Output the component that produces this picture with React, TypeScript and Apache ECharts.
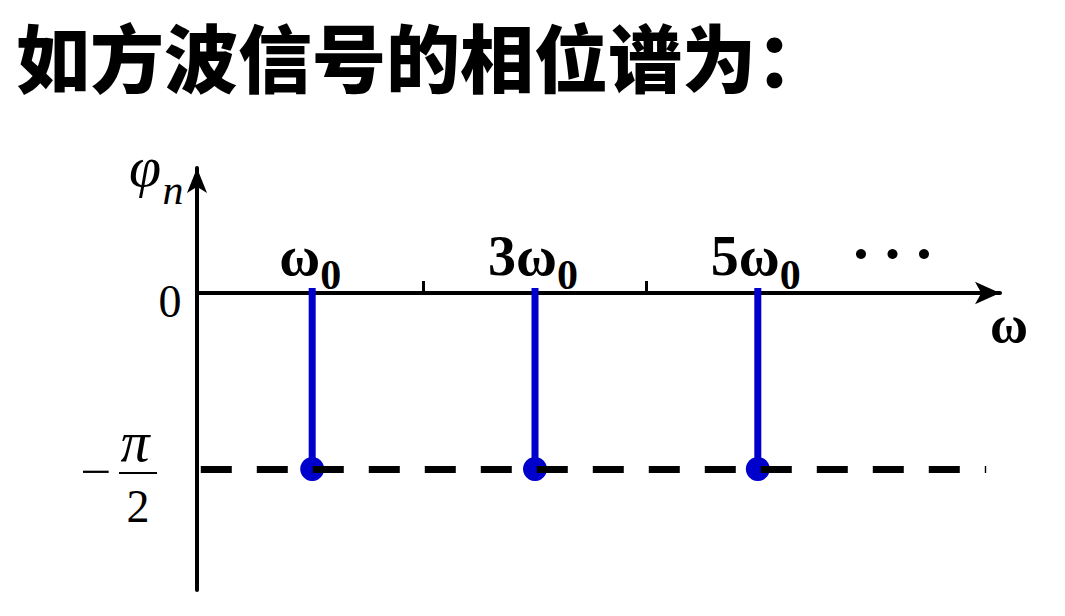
import React, { useEffect, useRef } from 'react';
import * as echarts from 'echarts';

const titleText = '如方波信号的相位谱为：';
const harmonics = [1, 3, 5];
const phases = [-1.5708, -1.5708, -1.5708];
const stemLabels = ['ω', '3ω', '5ω'];
const stemSub = '0';
const xTicks = [2, 4];
const halfPiLevel = -1.5708;
const dashEnd = 7.05;
const xAxisName = 'ω';
const yAxisName = 'φ';
const yAxisSub = 'n';
const yTickZero = '0';
const fracMinus = '−';
const fracTop = 'π';
const fracBottom = '2';
const moreDots = [0, 1, 2];

const SERIF = '"Liberation Serif", "DejaVu Serif", serif';
const BLUE = '#0000CC';

export default function App() {
  const ref = useRef<HTMLDivElement>(null);
  useEffect(() => {
    if (!ref.current) return;
    const chart = echarts.init(ref.current, null, { renderer: 'svg' });
    const option: any = {
      animation: false,
      title: {
        text: titleText,
        left: 16,
        top: 14,
        padding: 0,
        textStyle: {
          fontFamily: '"Noto Sans CJK SC", sans-serif',
          fontWeight: 900,
          fontSize: 74,
          lineHeight: 80,
          color: '#000',
        },
      },
      grid: { left: 197, right: 65, top: 168, bottom: 26 },
      xAxis: {
        type: 'value',
        min: -0.034,
        max: 7.174,
        axisLine: {
          onZero: true,
          symbol: ['none', 'arrow'],
          symbolSize: [17, 25],
          lineStyle: { color: '#000', width: 4 },
        },
        axisTick: {
          show: true,
          inside: true,
          length: 12,
          customValues: xTicks,
          lineStyle: { color: '#000', width: 3 },
        },
        axisLabel: { show: false },
        splitLine: { show: false },
      },
      yAxis: {
        type: 'value',
        min: -2.651,
        max: 1.116,
        axisLine: {
          onZero: false,
          symbol: ['none', 'arrow'],
          symbolSize: [15, 25],
          lineStyle: { color: '#000', width: 4 },
        },
        axisTick: { show: false },
        axisLabel: { show: false },
        splitLine: { show: false },
      },
      series: [
        {
          type: 'custom',
          z: 2,
          data: harmonics.map((h, i) => [h, phases[i]]),
          encode: { x: 0, y: 1 },
          renderItem: (params: any, api: any) => {
            const x = api.value(0);
            const y = api.value(1);
            const top = api.coord([x, 0]);
            const bot = api.coord([x, y]);
            const idx = params.dataIndex;
            return {
              type: 'group',
              children: [
                {
                  type: 'line',
                  shape: { x1: top[0], y1: top[1] - 5, x2: bot[0], y2: bot[1] },
                  style: { stroke: BLUE, lineWidth: 7 },
                },
                {
                  type: 'circle',
                  shape: { cx: bot[0], cy: bot[1], r: 12 },
                  style: { fill: BLUE },
                },
                {
                  type: 'text',
                  x: top[0] - 2,
                  y: top[1] + 29,
                  z2: 5,
                  style: {
                    text: `{a|${stemLabels[idx]}}{b|${stemSub}}`,
                    align: 'center',
                    verticalAlign: 'bottom',
                    rich: {
                      a: {
                        fontFamily: SERIF,
                        fontWeight: 'bold',
                        fontSize: 56,
                        lineHeight: 56,
                        verticalAlign: 'top',
                        fill: '#000',
                      },
                      b: {
                        fontFamily: SERIF,
                        fontWeight: 'bold',
                        fontSize: 42,
                        lineHeight: 94,
                        verticalAlign: 'middle',
                        fill: '#000',
                      },
                    },
                  },
                },
              ],
            };
          },
        },
        {
          type: 'line',
          z: 3,
          data: [],
          markLine: {
            silent: true,
            symbol: 'none',
            label: { show: false },
            lineStyle: { color: '#000', width: 7, type: [31, 25], cap: 'butt' },
            data: [[{ coord: [0, halfPiLevel] }, { coord: [dashEnd, halfPiLevel] }]],
          },
        },
      ],
    };
    chart.setOption(option);

    const y0 = chart.convertToPixel({ yAxisIndex: 0 }, 0) as number;
    const yH = chart.convertToPixel({ yAxisIndex: 0 }, halfPiLevel) as number;
    const serifText = (text: string, x: number, y: number, size: number, extra: any = {}, el: any = {}) => ({
      type: 'text',
      x,
      y,
      ...el,
      style: {
        text,
        fontFamily: SERIF,
        fontSize: size,
        fill: '#000',
        align: 'center',
        verticalAlign: 'middle',
        ...extra,
      },
    });
    chart.setOption({
      graphic: [
        serifText(yAxisName, 145, 166, 58, { fontStyle: 'italic' }),
        serifText(yAxisSub, 173, 190, 42, { fontStyle: 'italic' }),
        serifText(yTickZero, 170, y0 + 8, 46),
        serifText(fracMinus, 96, yH + 3, 46, {}, { scaleX: 1.2 }),
        serifText(fracTop, 135, yH - 27, 58, { fontStyle: 'italic' }),
        {
          type: 'line',
          shape: { x1: 119, y1: yH + 4, x2: 157, y2: yH + 4 },
          style: { stroke: '#000', lineWidth: 2 },
        },
        serifText(fracBottom, 138, yH + 38, 46),
        serifText(xAxisName, 1009, 324, 52, { fontWeight: 'bold' }),
        ...moreDots.map((i) => ({
          type: 'circle',
          shape: { cx: 861 + i * 31.5, cy: 254, r: 5 },
          style: { fill: '#000' },
        })),
      ],
    });
    return () => chart.dispose();
  }, []);
  return (
    <div
      ref={ref}
      style={{ position: 'absolute', left: 0, top: 0, width: 1065, height: 616 }}
    />
  );
}
